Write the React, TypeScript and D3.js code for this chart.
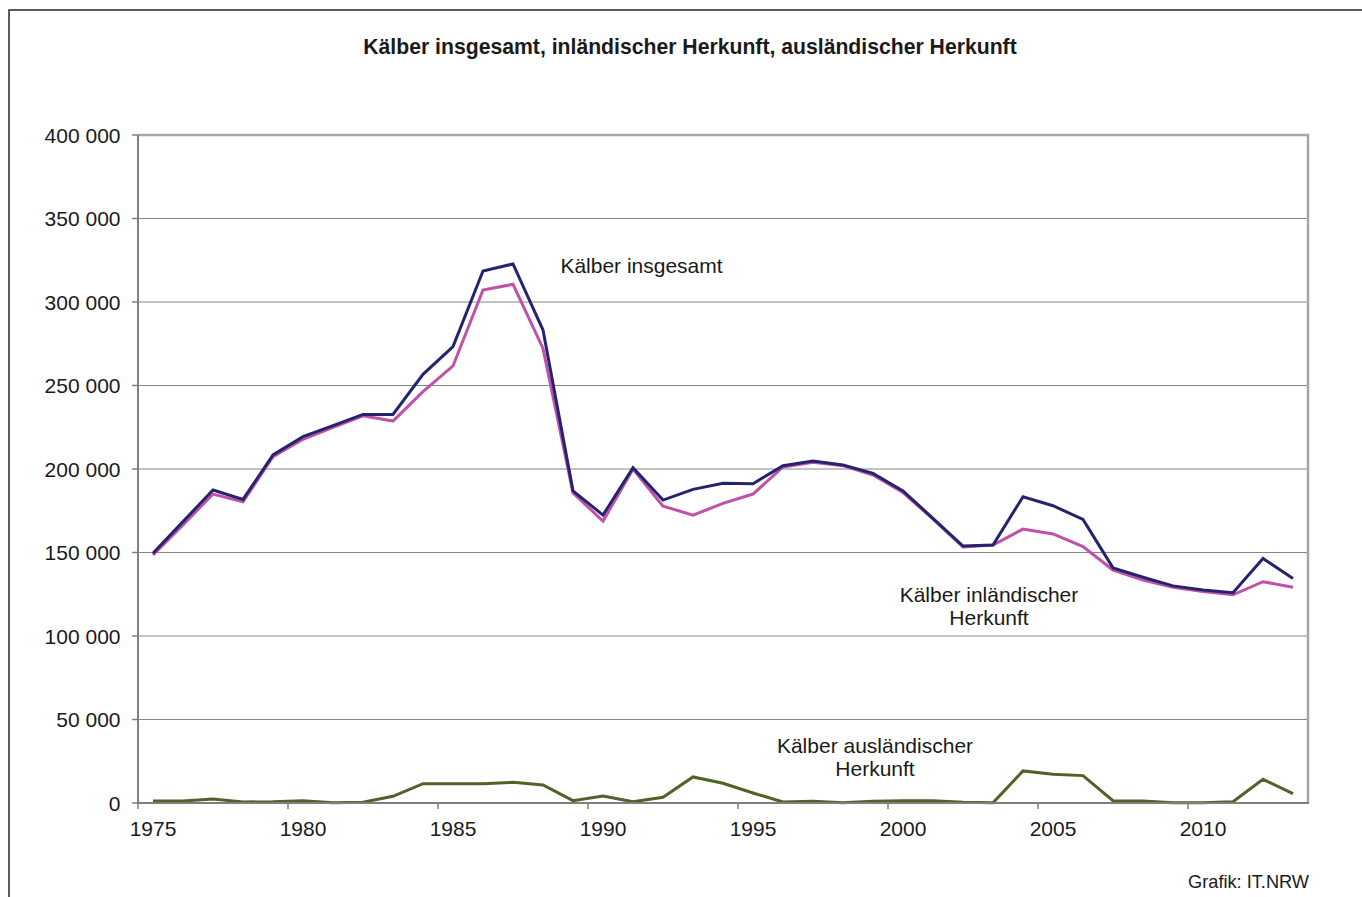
import React from "react";
import * as d3 from "d3";

const years: number[] = d3.range(1975, 2014);

const totalCalves: number[] = [
  149500, 168500, 187400, 181800, 208400, 219400, 226000, 232700, 232700, 256700,
  273300, 318600, 322800, 283200, 186900, 172400, 200800, 181400, 187800, 191400,
  191200, 202000, 204800, 202400, 197400, 186900, 170400, 153900, 154500, 183400,
  178000, 169800, 140800, 135200, 130000, 127500, 125900, 146400, 134500,
];

const domesticCalves: number[] = [
  148500, 166500, 185000, 180300, 207400, 217800, 225000, 231900, 228700, 246300,
  261700, 307200, 310600, 272200, 185700, 168800, 200000, 177800, 172400, 179400,
  185000, 201200, 204000, 202000, 196400, 185900, 170000, 153300, 154500, 164000,
  161100, 153500, 139500, 133500, 129200, 126700, 124700, 132500, 129200,
];

const foreignCalves: number[] = [
  1200, 1200, 2400, 600, 800, 1400, 200, 400, 4000, 11600,
  11600, 11600, 12400, 10800, 1400, 4200, 800, 3400, 15600, 11800,
  6000, 600, 1000, 200, 1000, 1400, 1400, 400, 200, 19200,
  17200, 16400, 1400, 1200, 200, 200, 800, 14200, 5600,
];

const yTicks: number[] = [0, 50000, 100000, 150000, 200000, 250000, 300000, 350000, 400000];
const xLabelYears: number[] = [1975, 1980, 1985, 1990, 1995, 2000, 2005, 2010];

const titleText = "Kälber insgesamt, inländischer Herkunft, ausländischer Herkunft";

const FONT = "'Liberation Sans', Arial, sans-serif";
const FS = 21;

export default function App() {
  const left = 138, right = 1308, top = 135, bottom = 803;
  const x = d3.scaleBand<number>().domain(years).range([left, right]).padding(0);
  const y = d3.scaleLinear().domain([0, 400000]).range([bottom, top]);
  const cx = (yr: number) => (x(yr) as number) + x.bandwidth() / 2;

  const line = d3
    .line<number>()
    .x((_, i) => cx(years[i]))
    .y((v) => y(v));

  const fmt = (v: number) => d3.format(",")(v).replace(/,/g, " ");

  const series = [
    { data: foreignCalves, color: "#4F6228" },
    { data: domesticCalves, color: "#C050A8" },
    { data: totalCalves, color: "#24246E" },
  ];

  return (
    <svg
      width={1362}
      height={897}
      style={{ position: "absolute", left: 0, top: 0, background: "#fff" }}
    >
      <rect x={0} y={0} width={1362} height={897} fill="#fff" />
      {/* outer frame */}
      <rect x={9} y={10} width={1400} height={950} fill="none" stroke="#333" strokeWidth={1.6} />
      <text
        x={690}
        y={54}
        textAnchor="middle"
        fontFamily={FONT}
        fontWeight="bold"
        fontSize={21.2}
        fill="#1a1a1a"
      >
        {titleText}
      </text>

      {/* gridlines */}
      {yTicks.slice(1, -1).map((t) => (
        <line key={t} x1={left} x2={right} y1={y(t)} y2={y(t)} stroke="#858585" strokeWidth={1.2} />
      ))}
      {/* plot frame top/right */}
      <path
        d={`M${left},${y(400000)} H${right} V${bottom}`}
        fill="none"
        stroke="#A6A6A6"
        strokeWidth={2.5}
      />

      {/* series */}
      {series.map((s, i) => (
        <path
          key={i}
          d={line(s.data) as string}
          fill="none"
          stroke={s.color}
          strokeWidth={3}
          strokeLinejoin="miter"
        />
      ))}

      {/* axes */}
      <line x1={left} x2={left} y1={top} y2={bottom} stroke="#7f7f7f" strokeWidth={2} />
      <line x1={left - 1} x2={right + 1} y1={bottom} y2={bottom} stroke="#7f7f7f" strokeWidth={2} />
      {yTicks.map((t) => (
        <g key={t}>
          <line x1={left - 6} x2={left} y1={y(t)} y2={y(t)} stroke="#7f7f7f" strokeWidth={1.5} />
          <text
            x={120.5}
            y={y(t) + 7.5}
            textAnchor="end"
            fontFamily={FONT}
            fontSize={FS}
            fill="#1a1a1a"
          >
            {fmt(t)}
          </text>
        </g>
      ))}
      {xLabelYears.map((yr) => (
        <g key={yr}>
          <line
            x1={x(yr) as number}
            x2={x(yr) as number}
            y1={bottom}
            y2={bottom + 6}
            stroke="#7f7f7f"
            strokeWidth={1.5}
          />
          <text
            x={cx(yr)}
            y={836}
            textAnchor="middle"
            fontFamily={FONT}
            fontSize={FS}
            fill="#1a1a1a"
          >
            {yr}
          </text>
        </g>
      ))}

      {/* annotations */}
      <text x={641.5} y={272.7} textAnchor="middle" fontFamily={FONT} fontSize={FS} fill="#1a1a1a">
        Kälber insgesamt
      </text>
      <text x={989} y={601.7} textAnchor="middle" fontFamily={FONT} fontSize={FS} fill="#1a1a1a">
        Kälber inländischer
      </text>
      <text x={989} y={625} textAnchor="middle" fontFamily={FONT} fontSize={FS} fill="#1a1a1a">
        Herkunft
      </text>
      <text x={875} y={753} textAnchor="middle" fontFamily={FONT} fontSize={FS} fill="#1a1a1a">
        Kälber ausländischer
      </text>
      <text x={875} y={776} textAnchor="middle" fontFamily={FONT} fontSize={FS} fill="#1a1a1a">
        Herkunft
      </text>
      <text x={1309} y={888} textAnchor="end" fontFamily={FONT} fontSize={18.2} fill="#1a1a1a">
        Grafik: IT.NRW
      </text>
    </svg>
  );
}
